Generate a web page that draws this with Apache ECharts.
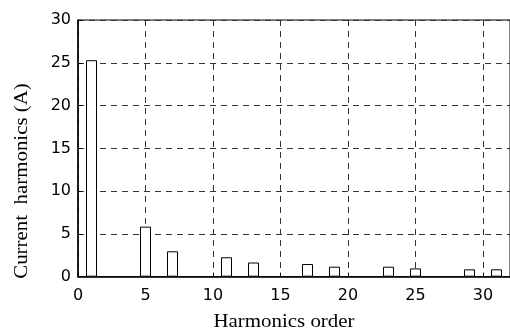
<!DOCTYPE html>
<html>
<head>
<meta charset="utf-8">
<script src="https://cdn.jsdelivr.net/npm/echarts@6/dist/echarts.min.js"></script>
<style>
  html, body { margin: 0; padding: 0; background: #fff; }
  #chart { width: 510px; height: 332px; }
</style>
</head>
<body>
<div id="chart"></div>
<script>
// Harmonic spectrum of the line current
const harmonicOrders = [1, 5, 7, 11, 13, 17, 19, 23, 25, 29, 31];
const currentAmps = [25.3, 5.85, 2.97, 2.27, 1.66, 1.48, 1.17, 1.17, 0.97, 0.86, 0.86];
const xTicks = [0, 5, 10, 15, 20, 25, 30];
const yTicks = [0, 5, 10, 15, 20, 25, 30];
const xTitle = 'Harmonics order';
const yTitle = 'Current  harmonics (A)';

const gridLine = { show: true, lineStyle: { color: '#333', width: 1, type: [6, 5] } };
const tickFont = { fontFamily: 'DejaVu Sans', fontSize: 16, color: '#000' };
const titleFont = '19px "Liberation Serif"';

const chart = echarts.init(document.getElementById('chart'), null, { renderer: 'canvas' });
chart.setOption({
  animation: false,
  backgroundColor: '#fff',
  grid: {
    left: 78, top: 20, width: 439.4, height: 256.7,
    show: true, borderColor: '#000', borderWidth: 1, backgroundColor: 'transparent'
  },
  xAxis: {
    type: 'value', min: 0, max: 32, interval: 5,
    axisLine: { show: true, onZero: false, lineStyle: { color: '#000', width: 1.5 } },
    axisTick: { show: true, inside: true, length: 4, lineStyle: { color: '#000' } },
    axisLabel: Object.assign({ margin: 11, showMaxLabel: false,
      formatter: v => (xTicks.includes(v) ? String(v) : '') }, tickFont),
    splitLine: gridLine
  },
  yAxis: {
    type: 'value', min: 0, max: 30, interval: 5,
    axisLine: { show: true, lineStyle: { color: '#000', width: 1.5 } },
    axisTick: { show: true, inside: true, length: 4, lineStyle: { color: '#000' } },
    axisLabel: Object.assign({ margin: 7,
      formatter: v => (yTicks.includes(v) ? String(v) : '') }, tickFont),
    splitLine: gridLine
  },
  series: [{
    type: 'bar',
    data: harmonicOrders.map((h, i) => [h, currentAmps[i]]),
    barWidth: 11,
    itemStyle: { color: '#fff', borderColor: '#000', borderWidth: 1 },
    z: 3
  }],
  graphic: [
    {
      type: 'text',
      x: 284, y: 322, scaleX: 1.1,
      style: {
        text: xTitle, align: 'center', verticalAlign: 'middle',
        font: titleFont, fill: '#000'
      }
    },
    {
      type: 'text',
      x: 22, y: 181, rotation: Math.PI / 2, scaleX: 1.1,
      style: {
        text: yTitle, align: 'center', verticalAlign: 'middle',
        font: titleFont, fill: '#000'
      }
    }
  ]
});
</script>
</body>
</html>
